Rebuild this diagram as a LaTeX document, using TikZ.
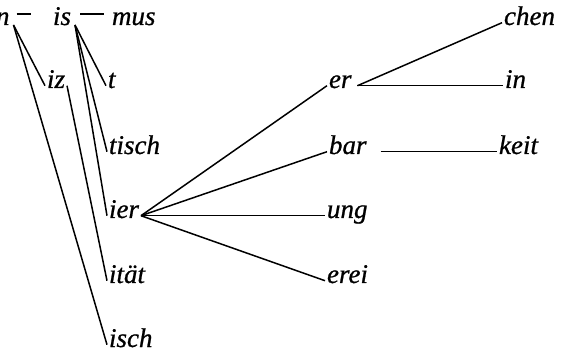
\documentclass[tikz,border=0pt]{standalone}
\usepackage{fontspec}
\setmainfont{Liberation Serif}
\newfontfamily\morphfont{Liberation Serif Italic}[BoldFont=Liberation Serif Italic, BoldFeatures={FakeBold=0.8}]
\usetikzlibrary{positioning}

\begin{document}
\begin{tikzpicture}[x=1pt,y=1pt]

    \tikzset{
      MorphStyle/.style = { inner xsep=2pt, inner ysep=0pt, outer sep=0pt,
                            anchor=base west,
                            font = \fontsize{27}{30}\morphfont\bfseries },
      LinkStyle/.style = { line width=1.5pt, black } }

      \useasboundingbox (0,0) rectangle (564,353);

      % left part
      \node[MorphStyle] (n) at (-6,328) {n};
      \node[MorphStyle] (is) at (51,328) {is};
      \node[MorphStyle] (mus) at (110,328) {mus};
      \node[MorphStyle] (iz) at (45,265) {iz};
      \node[MorphStyle] (t) at (106,265) {t};
      \node[MorphStyle] (tisch) at (107,199) {tisch};
      \node[MorphStyle] (ier) at (107,135) {ier};
      \node[MorphStyle] (itaet) at (107,70) {ität};
      \node[MorphStyle] (isch) at (107,6) {isch};

      % right part
      \node[MorphStyle] (er) at (327,265) {er};
      \node[MorphStyle] (bar) at (327,199) {bar};
      \node[MorphStyle] (ung) at (325,135) {ung};
      \node[MorphStyle] (erei) at (325,70) {erei};
      \node[MorphStyle] (chen) at (502,328) {chen};
      \node[MorphStyle] (in) at (503,265) {in};
      \node[MorphStyle] (keit) at (497,199) {keit};

      \tikzset{
      LinkStyle/.append style = {line cap=butt} }
      \draw[LinkStyle] ([xshift=5pt,yshift=11pt]n.base east) -- ([xshift=-20pt,yshift=11pt]is.base west);
      \draw[LinkStyle] ([xshift=7pt,yshift=11pt]is.base east) -- ([xshift=-6pt,yshift=11pt]mus.base west);
      \draw[LinkStyle] ([xshift=2pt]n.base east) -- (iz.mid west);
      \draw[LinkStyle] ([xshift=2pt]n.base east) -- (isch.mid west);
      \draw[LinkStyle] ([xshift=2pt]is.base east) -- (t.mid west);
      \draw[LinkStyle] ([xshift=2pt]is.base east) -- (tisch.mid west);
      \draw[LinkStyle] ([xshift=2pt]is.base east) -- (ier.mid west);
      \draw[LinkStyle] (iz.mid east) -- (itaet.mid west);

      \draw[LinkStyle] (ier.mid east) -- (er.mid west);
      \draw[LinkStyle] (ier.mid east) -- (bar.mid west);
      \draw[LinkStyle] (ier.mid east) -- (ung.mid west);
      \draw[LinkStyle] (ier.mid east) -- (erei.mid west);

      \draw[LinkStyle] ([xshift=4pt]er.mid east) -- (chen.mid west);
      \draw[LinkStyle] ([xshift=4pt]er.mid east) -- (in.mid west);
      \draw[LinkStyle] ([xshift=12pt]bar.mid east) -- (keit.mid west);

\end{tikzpicture}
\end{document}
